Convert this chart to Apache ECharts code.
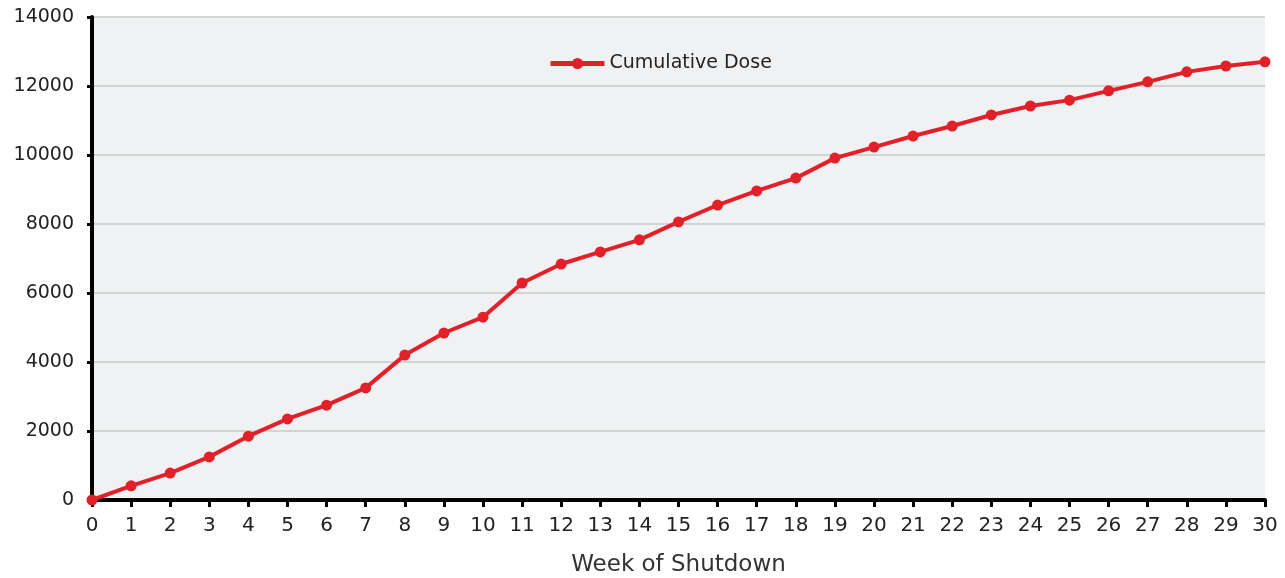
<!DOCTYPE html>
<html>
<head>
<meta charset="utf-8">
<script src="https://cdn.jsdelivr.net/npm/echarts@6/dist/echarts.min.js"></script>
<style>
  html, body { margin: 0; padding: 0; background: #fff; }
  #chart { width: 1285px; height: 578px; }
</style>
</head>
<body>
<div id="chart"></div>
<script>
const weeks = ['0', '1', '2', '3', '4', '5', '6', '7', '8', '9', '10', '11', '12', '13', '14', '15',
  '16', '17', '18', '19', '20', '21', '22', '23', '24', '25', '26', '27', '28', '29', '30']
const cumulativeDose = [0, 410, 780, 1250, 1850, 2350, 2750, 3250, 4200, 4840, 5300, 6290, 6840,
  7190, 7540, 8060, 8550, 8960, 9330, 9910, 10230, 10550, 10840, 11160, 11420, 11590, 11860,
  12120, 12410, 12580, 12700]
const yTicks = { min: 0, max: 14000, interval: 2000 }

const font = '"DejaVu Sans", sans-serif'

const chart = echarts.init(document.getElementById('chart'))

chart.setOption({
  animation: false,
  grid: {
    left: 92, right: 20, top: 17, bottom: 78,
    outerBoundsMode: 'none',
    backgroundColor: '#f0f1f3', show: true, borderWidth: 0
  },
  legend: {
    data: ['Cumulative Dose'],
    left: 543,
    top: 49,
    itemWidth: 54,
    itemHeight: 14,
    itemGap: 4,
    lineStyle: { width: 5 },
    textStyle: { fontFamily: font, fontSize: 19, color: '#222' }
  },
  xAxis: {
    type: 'category',
    data: weeks,
    boundaryGap: false,
    name: 'Week of Shutdown',
    nameLocation: 'middle',
    nameGap: 54,
    nameTextStyle: { fontFamily: font, fontSize: 23, color: '#333' },
    axisLine: { lineStyle: { color: '#000', width: 4 } },
    axisTick: { length: 7, lineStyle: { color: '#000', width: 3 } },
    axisLabel: { fontFamily: font, fontSize: 20, color: '#222', margin: 16 },
    splitLine: { show: false }
  },
  yAxis: {
    type: 'value',
    min: yTicks.min,
    max: yTicks.max,
    interval: yTicks.interval,
    axisLine: { show: true, lineStyle: { color: '#000', width: 4 } },
    axisTick: { show: true, length: 5, lineStyle: { color: '#000', width: 3 } },
    axisLabel: { fontFamily: font, fontSize: 19, color: '#222', margin: 18, formatter: v => String(v) },
    splitLine: { lineStyle: { color: '#c8c8c8', width: 1.5 } }
  },
  series: [{
    name: 'Cumulative Dose',
    type: 'line',
    data: cumulativeDose,
    symbol: 'circle',
    symbolSize: 11,
    lineStyle: { color: '#e2202a', width: 4 },
    itemStyle: { color: '#e2202a' }
  }]
})
</script>
</body>
</html>
